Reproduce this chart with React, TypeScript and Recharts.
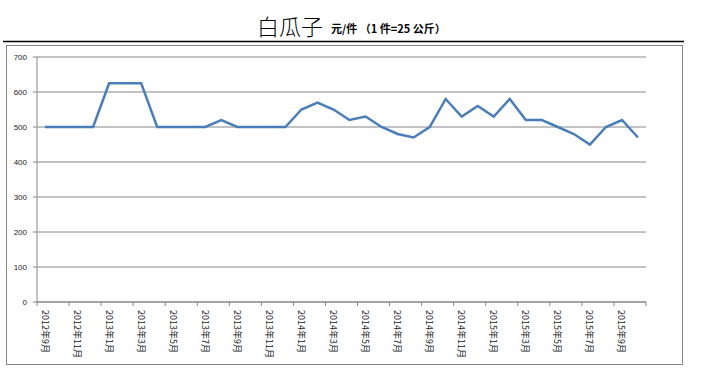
import React from 'react';
import { LineChart, Line, XAxis, YAxis, CartesianGrid } from 'recharts';

const months = [
  '2012年9月', '2012年10月', '2012年11月', '2012年12月',
  '2013年1月', '2013年2月', '2013年3月', '2013年4月', '2013年5月', '2013年6月',
  '2013年7月', '2013年8月', '2013年9月', '2013年10月', '2013年11月', '2013年12月',
  '2014年1月', '2014年2月', '2014年3月', '2014年4月', '2014年5月', '2014年6月',
  '2014年7月', '2014年8月', '2014年9月', '2014年10月', '2014年11月', '2014年12月',
  '2015年1月', '2015年2月', '2015年3月', '2015年4月', '2015年5月', '2015年6月',
  '2015年7月', '2015年8月', '2015年9月', '2015年10月',
];

const prices = [
  500, 500, 500, 500,
  625, 625, 625, 500, 500, 500,
  500, 520, 500, 500, 500, 500,
  550, 570, 550, 520, 530, 500,
  480, 470, 500, 580, 530, 560,
  530, 580, 520, 520, 500, 480,
  450, 500, 520, 470,
];

const yTicks = [0, 100, 200, 300, 400, 500, 600, 700];

const data = months.map((m, i) => ({ month: m, price: prices[i] }));

const CHART_W = 708;
const CHART_H = 380;
const PLOT_LEFT = 37;
const PLOT_RIGHT = 646;
const PLOT_TOP = 57;
const PLOT_BOTTOM = 302;
const HALF = (PLOT_RIGHT - PLOT_LEFT) / months.length / 2;
const GRID = '#868686';

const XTick = (props: any) => {
  const { x, y, payload } = props;
  const idx = payload && payload.index !== undefined ? payload.index : props.index;
  const last = months.length - 1;
  const items: any[] = [];
  if (idx % 2 === 0) {
    items.push(<line key="t" x1={x - HALF} x2={x - HALF} y1={y} y2={y + 4} stroke={GRID} strokeWidth={1} />);
    items.push(
      <text
        key="l"
        x={x}
        y={y + 8}
        transform={`rotate(90, ${x}, ${y + 8})`}
        textAnchor="start"
        dominantBaseline="central"
        fontSize={9}
        fontFamily="'Noto Sans CJK SC', sans-serif"
        fill="#222"
      >
        {payload.value}
      </text>
    );
  }
  if (idx === last) {
    items.push(<line key="e" x1={x + HALF} x2={x + HALF} y1={y} y2={y + 4} stroke={GRID} strokeWidth={1} />);
  }
  return <g>{items}</g>;
};

export default function App() {
  return (
    <div style={{ position: 'absolute', left: 0, top: 0, width: CHART_W, height: CHART_H, background: '#fff' }}>
      <svg width={CHART_W} height={45} style={{ position: 'absolute', left: 0, top: 0 }}>
        <text x={257} y={35} fontSize={22} fontWeight={300} fontFamily="'Noto Sans CJK SC', sans-serif" fill="#000">
          白瓜子
        </text>
        <text x={331} y={33} fontSize={11} fontWeight="bold" fontFamily="'Noto Sans CJK SC', sans-serif" fill="#000" style={{ whiteSpace: 'pre' }}>
          元/件 （1 件=25 公斤）
        </text>
        <line x1={3} x2={684} y1={41.5} y2={41.5} stroke="#000" strokeWidth={1.5} />
      </svg>
      <div
        style={{
          position: 'absolute',
          left: 6,
          top: 45,
          width: 677,
          height: 320,
          border: `1px solid ${GRID}`,
          boxSizing: 'border-box',
        }}
      />
      <div style={{ position: 'absolute', left: 0, top: 0 }}>
        <LineChart
          width={CHART_W}
          height={CHART_H}
          data={data}
          margin={{ top: PLOT_TOP, right: CHART_W - PLOT_RIGHT, left: 7, bottom: CHART_H - PLOT_BOTTOM - 60 }}
        >
          <CartesianGrid vertical={false} stroke={GRID} strokeDasharray="" />
          <XAxis
            dataKey="month"
            interval={0}
            padding={{ left: HALF, right: HALF }}
            height={60}
            tickLine={false}
            tickSize={0}
            tickMargin={0}
            axisLine={{ stroke: GRID }}
            tick={<XTick />}
          />
          <YAxis
            domain={[0, 700]}
            ticks={yTicks}
            width={30}
            tickSize={4}
            tickMargin={6}
            axisLine={{ stroke: GRID }}
            tickLine={{ stroke: GRID }}
            tick={{ fontSize: 8, fontFamily: "'Liberation Sans', Arial, sans-serif", fill: '#222' }}
          />
          <Line
            type="linear"
            dataKey="price"
            stroke="#4A7EBB"
            strokeWidth={2.5}
            dot={false}
            isAnimationActive={false}
          />
        </LineChart>
      </div>
    </div>
  );
}
